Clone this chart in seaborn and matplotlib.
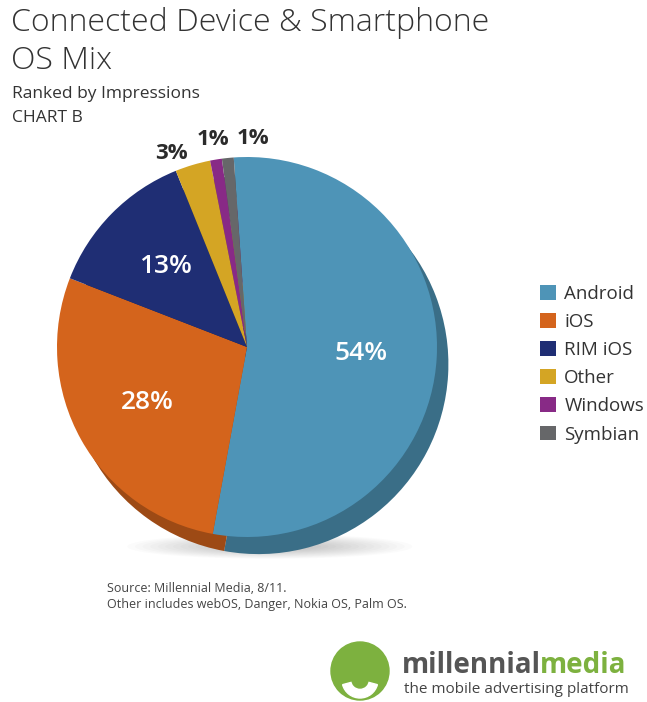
import matplotlib
matplotlib.use("Agg")
import matplotlib.pyplot as plt
import matplotlib.colors as mcolors
import numpy as np
import seaborn as sns
from matplotlib.patches import Patch, Circle, Wedge, Ellipse

# data
os_names = ["Android", "iOS", "RIM iOS", "Other", "Windows", "Symbian"]
shares = [54, 28, 13, 3, 1, 1]
os_colors = ["#4e94b7", "#d4641c", "#1f2e74", "#d4a524", "#882a86", "#666769"]

title_lines = ["Connected Device & Smartphone", "OS Mix"]
subtitle = "Ranked by Impressions"
chart_tag = "CHART B"
source_lines = ["Source: Millennial Media, 8/11.",
                "Other includes webOS, Danger, Nokia OS, Palm OS."]

sns.set_theme(style="white")
plt.rcParams["font.family"] = ["Open Sans", "DejaVu Sans"]

W, H = 647, 702
fig = plt.figure(figsize=(W / 100, H / 100), dpi=100)
fig.patch.set_facecolor("white")

# pie axes: center (247, 347) px, radius 190 px
cx, cy, r = 247, 347, 190
half = 215
ax = fig.add_axes([(cx - half) / W, (H - cy - half) / H, 2 * half / W, 2 * half / H])
lim = half / r
ax.axis("off")

# soft floor shadow
for k in range(14):
    ax.add_patch(Ellipse((0.12, -1.05), 1.5 - 0.08 * k, 0.13 - 0.007 * k,
                         color="#000000", alpha=0.014, lw=0, zorder=0))

# darker "depth" layer behind the pie
dark = [mcolors.to_hex(np.array(mcolors.to_rgb(c)) * 0.74) for c in os_colors]
ax.pie(shares, colors=dark, startangle=94, counterclock=False, radius=1.0,
       center=(0.06, -0.09), wedgeprops=dict(linewidth=0))

wedges, texts, autotexts = ax.pie(
    shares, colors=os_colors, startangle=94, counterclock=False, radius=1.0,
    autopct=lambda p: f"{p:.0f}%", pctdistance=0.6,
    wedgeprops=dict(linewidth=0),
    textprops=dict(color="white", fontsize=19, fontweight="semibold"),
)
ax.set_xlim(-lim, lim)
ax.set_ylim(-lim, lim)
ax.set_aspect("equal")

# small slices: labels outside, spread apart
small_pos = {3: (-0.40, 1.02), 4: (-0.18, 1.09), 5: (0.03, 1.10)}
for i, (x, y) in small_pos.items():
    autotexts[i].set_position((x, y))
    autotexts[i].set_color("#2b2b2b")
    autotexts[i].set_fontsize(16)
    autotexts[i].set_fontweight("bold")
    autotexts[i].set_ha("center")

# titles
fig.text(11 / W, 1 - 7 / H, title_lines[0], fontsize=23, fontweight="light",
         color="#333333", va="top", ha="left")
fig.text(11 / W, 1 - 45 / H, title_lines[1], fontsize=23, fontweight="light",
         color="#333333", va="top", ha="left")
fig.text(12 / W, 1 - 86 / H, subtitle, fontsize=12.5, color="#333333", va="top", ha="left")
fig.text(12 / W, 1 - 110 / H, chart_tag, fontsize=12.5, color="#333333", va="top", ha="left")

# legend
handles = [Patch(facecolor=c, edgecolor="none", label=n) for n, c in zip(os_names, os_colors)]
fig.legend(handles=handles, loc="upper left", bbox_to_anchor=(523 / W, 1 - 268 / H),
           frameon=False, fontsize=13.5, handlelength=0.85, handleheight=0.85,
           handletextpad=0.45, labelspacing=0.54, labelcolor="#333333")

# source notes
fig.text(107 / W, 1 - 582 / H, source_lines[0], fontsize=9, color="#444444", va="top")
fig.text(107 / W, 1 - 598 / H, source_lines[1], fontsize=9, color="#444444", va="top")

# logo
lax = fig.add_axes([322 / W, 0, 76 / W, 62 / H])
lax.set_xlim(0, 76)
lax.set_ylim(0, 62)
lax.set_aspect("equal")
lax.axis("off")
lax.add_patch(Circle((38, 31), 29, color="#7db13f"))
lax.add_patch(Wedge((38, 22), 18, 195, 345, color="white"))
lax.add_patch(Circle((38, 22), 8, color="#7db13f"))
t1 = fig.text(402 / W, 1 - 673 / H, "millennial", fontsize=20, fontweight="bold",
              color="#555555", va="baseline", ha="left")
ax.annotate("media", xy=(1, 0), xycoords=t1, xytext=(-1, 0), textcoords="offset points",
            fontsize=20, fontweight="bold", color="#7db13f", va="bottom", ha="left",
            annotation_clip=False)
fig.text(404 / W, 1 - 693 / H, "the mobile advertising platform", fontsize=11,
         color="#444444", va="baseline", ha="left")

fig.savefig("out.png", dpi=100, facecolor="white")
